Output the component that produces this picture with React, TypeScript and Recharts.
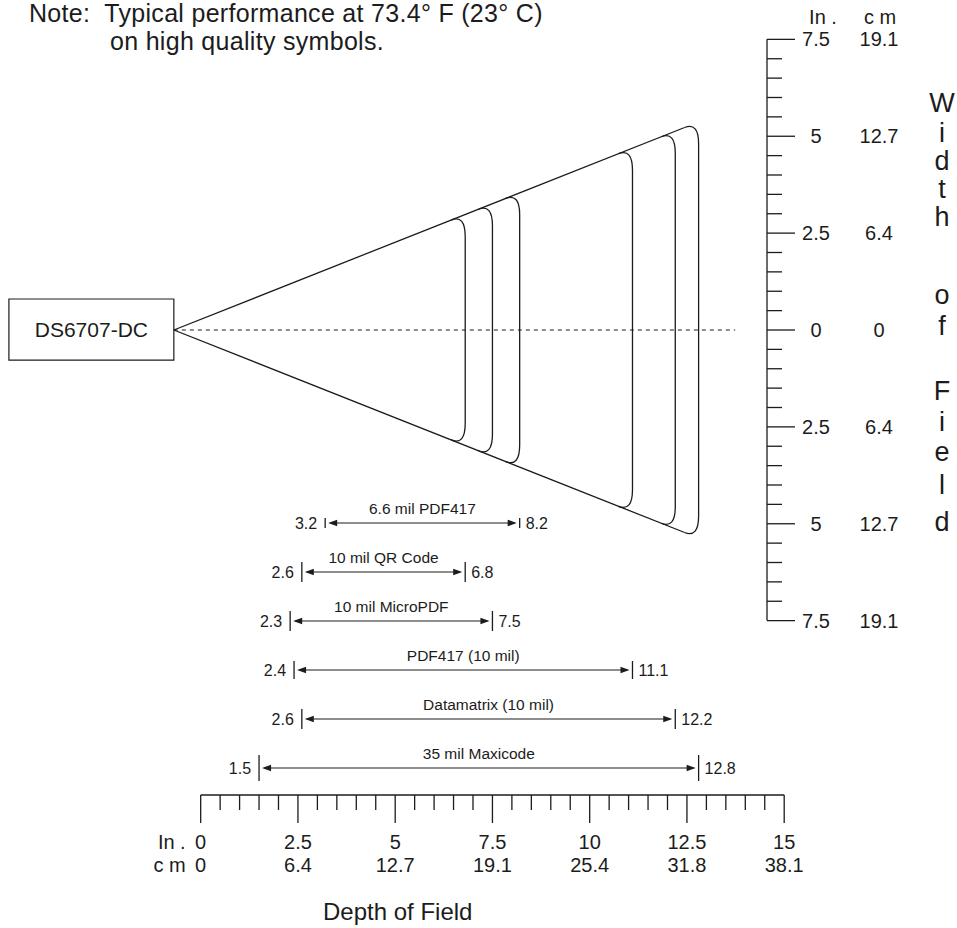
import { ComposedChart, XAxis, YAxis, ReferenceLine, ReferenceArea } from "recharts";

// depth-of-field ruler (inches, with cm equivalents at the long ticks)
const depthMajorIn = [0, 2.5, 5, 7.5, 10, 12.5, 15];
const depthMajorCm = ["0", "6.4", "12.7", "19.1", "25.4", "31.8", "38.1"];
const depthTicks = Array.from({ length: 31 }, (_, i) => i * 0.5);

// width-of-field ruler
const widthMajorIn = [7.5, 5, 2.5, 0, -2.5, -5, -7.5];
const widthMajorLabel = ["7.5", "5", "2.5", "0", "2.5", "5", "7.5"];
const widthMajorCm = ["19.1", "12.7", "6.4", "0", "6.4", "12.7", "19.1"];
const widthTicks = Array.from({ length: 31 }, (_, i) => (i - 15) * 0.5);

// working ranges per symbology (inches)
const symbols = [
  "6.6 mil PDF417",
  "10 mil QR Code",
  "10 mil MicroPDF",
  "PDF417 (10 mil)",
  "Datamatrix (10 mil)",
  "35 mil Maxicode",
];
const nearIn = [3.2, 2.6, 2.3, 2.4, 2.6, 1.5];
const farIn = [8.2, 6.8, 7.5, 11.1, 12.2, 12.8];

const scannerName = "DS6707-DC";
const coneApex = -0.69; // depth where the beam leaves the window
const coneSlope = 0.398; // half width gained per inch of depth
const centerLineEnd = 13.74;

const INK = "#1c1c1c";
const FONT = "'Liberation Sans', Arial, Helvetica, sans-serif";

// axis extents, picked so one inch is ~38.9px in both directions
const X_DOMAIN: [number, number] = [-5.159, 14.558];
const Y_DOMAIN: [number, number] = [-12, 8.516];
const ROW_DOMAIN: [number, number] = [-10.673, 5.551];

const rowTickLen = [10, 20, 20, 18, 20, 26];
const sideLetters = ["W", "i", "d", "t", "h", "o", "f", "F", "i", "e", "l", "d"];
const sideBaselines = [112, 142, 170, 198, 226, 304, 335, 400, 431, 461, 494, 531];

const halfWidth = (d: number) => coneSlope * (d - coneApex);

const rows = symbols.map((name, i) => ({ name, near: nearIn[i], far: farIn[i], row: i }));

function DepthTick(props: any) {
  const { x, y, payload } = props;
  const v = payload.value;
  const i = depthMajorIn.indexOf(v);
  const major = i >= 0;
  return (
    <g fontFamily={FONT} fontSize={20} fill={INK}>
      <line x1={x} y1={y} x2={x} y2={y + (major ? 28 : 15)} stroke={INK} strokeWidth={1.3} />
      {major && (
        <text x={x} y={y + 54} textAnchor="middle">
          {v}
        </text>
      )}
      {major && (
        <text x={x} y={y + 77} textAnchor="middle">
          {depthMajorCm[i]}
        </text>
      )}
      {v === 0 && (
        <text x={x - 15} y={y + 54} textAnchor="end">
          In .
        </text>
      )}
      {v === 0 && (
        <text x={x - 15} y={y + 77} textAnchor="end">
          c m
        </text>
      )}
    </g>
  );
}

function WidthTick(props: any) {
  const { x, y, payload } = props;
  const v = payload.value;
  const i = widthMajorIn.indexOf(v);
  const major = i >= 0;
  return (
    <g fontFamily={FONT} fontSize={20} fill={INK}>
      <line x1={x} y1={y} x2={x + (major ? 28 : 15)} y2={y} stroke={INK} strokeWidth={1.3} />
      {major && (
        <text x={x + 49} y={y + 7} textAnchor="middle">
          {widthMajorLabel[i]}
        </text>
      )}
      {major && (
        <text x={x + 112} y={y + 7} textAnchor="middle">
          {widthMajorCm[i]}
        </text>
      )}
    </g>
  );
}

// far end of a range: vertical across the beam with rounded corners into the edges
function ArcShape(props: any) {
  const { x1, y1, x2, y2 } = props;
  const r = 14;
  const k = 0.396;
  const rv = 22;
  const d = `M${x1 - r},${y1 + r * k} Q${x1},${y1} ${x1},${y1 + rv} L${x2},${y2 - rv} Q${x2},${y2} ${x2 - r},${y2 - r * k}`;
  return <path d={d} fill="none" stroke={INK} strokeWidth={1.3} />;
}

function RangeShape(props: any) {
  const { x1, x2, y1, idx } = props;
  const y = y1;
  const h = rowTickLen[idx] / 2;
  const a = 3;
  const head = 9;
  const hw = 3.3;
  return (
    <g fontFamily={FONT} fill={INK}>
      <line x1={x1} y1={y - h} x2={x1} y2={y + h} stroke={INK} strokeWidth={1.3} />
      <line x1={x2} y1={y - h} x2={x2} y2={y + h} stroke={INK} strokeWidth={1.3} />
      <line x1={x1 + a + 2} y1={y} x2={x2 - a - 2} y2={y} stroke={INK} strokeWidth={1.2} />
      <polygon points={`${x1 + a},${y} ${x1 + a + head},${y - hw} ${x1 + a + head},${y + hw}`} fill={INK} />
      <polygon points={`${x2 - a},${y} ${x2 - a - head},${y - hw} ${x2 - a - head},${y + hw}`} fill={INK} />
      <text x={x1 - 8} y={y + 6} fontSize={16} textAnchor="end">
        {nearIn[idx]}
      </text>
      <text x={x2 + 6} y={y + 6} fontSize={16} textAnchor="start">
        {farIn[idx]}
      </text>
      <text x={(x1 + x2) / 2} y={y - 9} fontSize={15.5} textAnchor="middle">
        {symbols[idx]}
      </text>
    </g>
  );
}

export default function App() {
  const farMax = Math.max(...farIn);
  const edgeEnd = farMax - 0.36;

  return (
    <div style={{ position: "absolute", left: 0, top: 0, width: 957, height: 928, background: "#fff" }}>
      <ComposedChart width={957} height={928} data={rows} margin={{ top: 0, right: 20, bottom: 33, left: 0 }}>
        <XAxis
          xAxisId="d"
          dataKey="far"
          type="number"
          domain={X_DOMAIN}
          allowDataOverflow
          ticks={depthTicks}
          interval={0}
          height={100}
          axisLine={false}
          tickLine={false}
          tickSize={0}
          tickMargin={0}
          tick={(p: any) => <DepthTick {...p} />}
        />
        <YAxis
          yAxisId="w"
          orientation="right"
          type="number"
          domain={Y_DOMAIN}
          allowDataOverflow
          ticks={widthTicks}
          interval={0}
          width={170}
          axisLine={false}
          tickLine={false}
          tickSize={0}
          tickMargin={0}
          tick={(p: any) => <WidthTick {...p} />}
        />
        <YAxis yAxisId="rows" type="number" domain={ROW_DOMAIN} allowDataOverflow reversed hide width={0} />

        {/* ruler spines */}
        <ReferenceLine
          xAxisId="d"
          yAxisId="w"
          segment={[{ x: 0, y: Y_DOMAIN[0] }, { x: 15, y: Y_DOMAIN[0] }]}
          stroke={INK}
          strokeWidth={1.3}
          ifOverflow="visible"
        />
        <ReferenceLine
          xAxisId="d"
          yAxisId="w"
          segment={[{ x: X_DOMAIN[1], y: -7.5 }, { x: X_DOMAIN[1], y: 7.5 }]}
          stroke={INK}
          strokeWidth={1.3}
          ifOverflow="visible"
        />

        {/* scanner and beam */}
        <ReferenceArea
          xAxisId="d"
          yAxisId="w"
          x1={-4.93}
          x2={coneApex}
          y1={-0.78}
          y2={0.8}
          fill="#fff"
          fillOpacity={1}
          stroke={INK}
          strokeWidth={1.2}
          ifOverflow="visible"
          label={{ value: scannerName, position: "center", fontSize: 21, fill: INK, fontFamily: FONT }}
        />
        <ReferenceLine
          xAxisId="d"
          yAxisId="w"
          segment={[{ x: coneApex, y: 0 }, { x: centerLineEnd, y: 0 }]}
          stroke={INK}
          strokeWidth={1.2}
          strokeDasharray="4 4"
          ifOverflow="visible"
        />
        <ReferenceLine
          xAxisId="d"
          yAxisId="w"
          segment={[{ x: coneApex, y: 0 }, { x: edgeEnd, y: halfWidth(edgeEnd) }]}
          stroke={INK}
          strokeWidth={1.3}
          ifOverflow="visible"
        />
        <ReferenceLine
          xAxisId="d"
          yAxisId="w"
          segment={[{ x: coneApex, y: 0 }, { x: edgeEnd, y: -halfWidth(edgeEnd) }]}
          stroke={INK}
          strokeWidth={1.3}
          ifOverflow="visible"
        />
        {farIn.map((d, i) => (
          <ReferenceLine
            key={`arc-${i}`}
            xAxisId="d"
            yAxisId="w"
            segment={[{ x: d, y: halfWidth(d) }, { x: d, y: -halfWidth(d) }]}
            ifOverflow="visible"
            shape={(p: any) => <ArcShape {...p} />}
          />
        ))}

        {/* working ranges */}
        {rows.map((r) => (
          <ReferenceLine
            key={r.name}
            xAxisId="d"
            yAxisId="rows"
            segment={[{ x: r.near, y: r.row }, { x: r.far, y: r.row }]}
            ifOverflow="visible"
            shape={(p: any) => <RangeShape {...p} idx={r.row} />}
          />
        ))}
      </ComposedChart>

      <svg
        width={957}
        height={928}
        style={{ position: "absolute", left: 0, top: 0, pointerEvents: "none" }}
        fontFamily={FONT}
        fill={INK}
      >
        <text x={29} y={22} fontSize={25} letterSpacing={0.3} style={{ whiteSpace: "pre" }}>
          {"Note:  Typical performance at 73.4° F (23° C)"}
        </text>
        <text x={110} y={50} fontSize={25} letterSpacing={0.3}>
          on high quality symbols.
        </text>
        <text x={823} y={24} fontSize={20} textAnchor="middle">
          In .
        </text>
        <text x={880} y={24} fontSize={20} textAnchor="middle">
          c m
        </text>
        {sideLetters.map((ch, i) => (
          <text key={i} x={942} y={sideBaselines[i]} fontSize={27} textAnchor="middle">
            {ch}
          </text>
        ))}
        <text x={323} y={920} fontSize={24}>
          Depth of Field
        </text>
      </svg>
    </div>
  );
}
